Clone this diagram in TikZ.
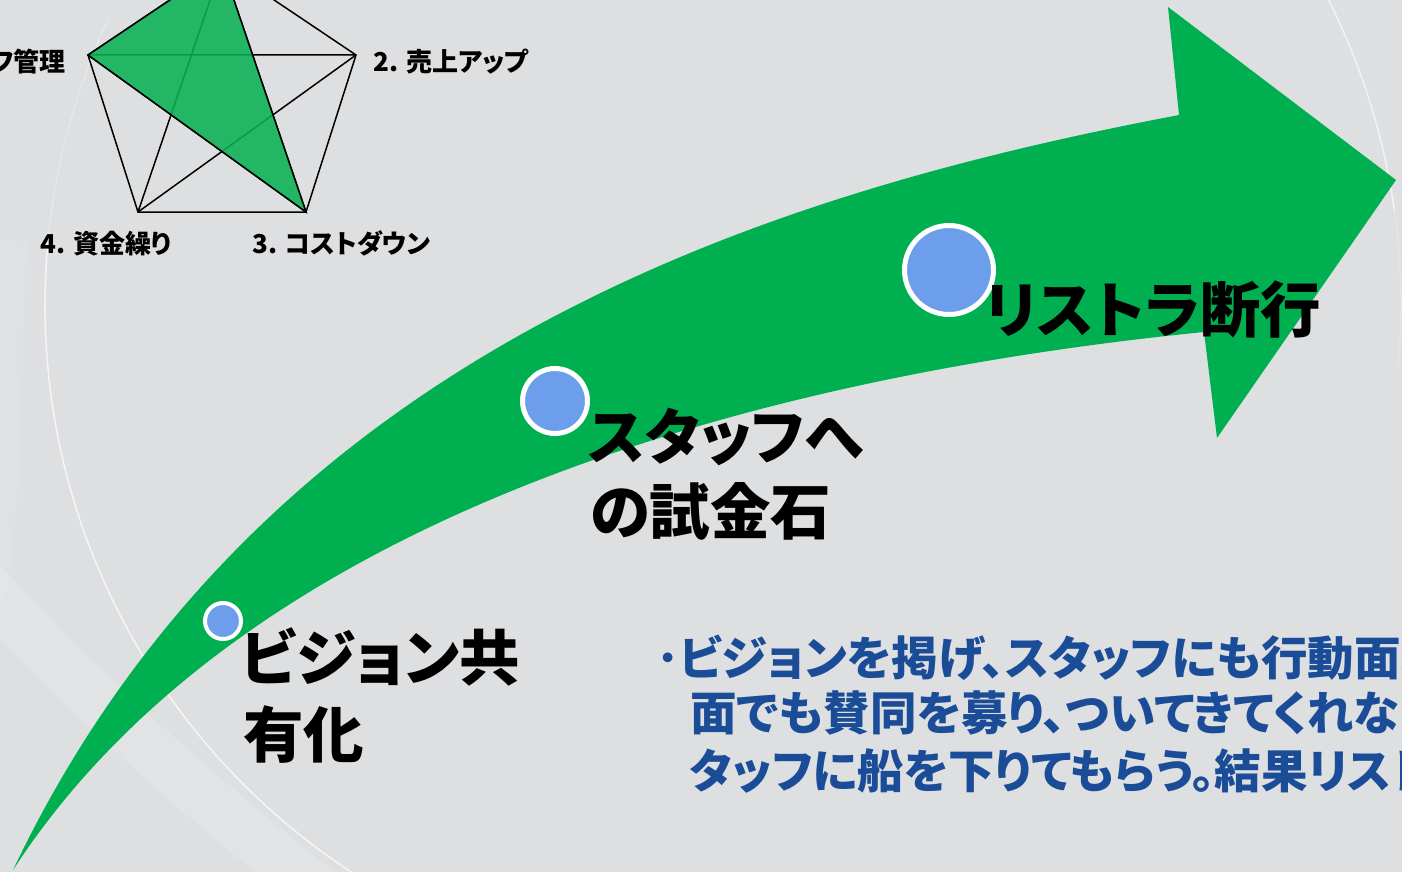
\documentclass[tikz,border=0pt]{standalone}
\usepackage{fontspec}
\newfontfamily\jp[RawFeature=+palt]{Noto Sans CJK JP}
\definecolor{bg}{RGB}{222,223,225}
\definecolor{arrowgreen}{RGB}{0,176,80}
\definecolor{radargreen}{RGB}{10,178,84}
\definecolor{dotblue}{RGB}{109,158,235}
\definecolor{textblue}{RGB}{26,76,152}
\tikzset{
  stepdot/.style={circle, fill=dotblue, draw=white, inner sep=0pt},
  biglabel/.style={font=\jp\bfseries\fontsize{60.5}{60.5}\selectfont, anchor=base west, inner sep=0pt, text=black},
  bluetext/.style={font=\jp\bfseries\fontsize{46.5}{46.5}\selectfont, anchor=base west, inner sep=0pt, text=textblue},
  radarlabel/.style={font=\jp\bfseries\fontsize{26}{26}\selectfont, anchor=base west, inner sep=0pt, text=black},
  radarline/.style={draw=black, line width=1.5pt},
  bgline/.style={draw=white, line width=1.5pt}
}
\begin{document}
\begin{tikzpicture}[x=1pt,y=-1pt]
\useasboundingbox (0,0) rectangle (1402,872);
\clip (0,0) rectangle (1402,872);
\fill[bg] (0,0) rectangle (1402,872);
% background decoration
\draw[white, opacity=0.14, line width=50pt] (-30,570) .. controls (90,700) and (190,790) .. (330,900);
\draw[white, opacity=0.08, line width=30pt] (12,240) .. controls (5,380) and (10,480) .. (-10,600);
\draw[bgline, opacity=0.25] (723,305) ++(205:678) arc[start angle=205, end angle=186, radius=678];
\draw[bgline, opacity=0.7] (723,305) ++(186:678) arc[start angle=186, end angle=122, radius=678];
\draw[bgline, opacity=0.6] (723,305) ++(-30:678) arc[start angle=-30, end angle=-8, radius=678];
\draw[bgline, opacity=0.2] (723,305) ++(-8:678) arc[start angle=-8, end angle=5, radius=678];
% radar chart
\coordinate (T) at (222,-35);
\coordinate (R) at (356,55);
\coordinate (BR) at (306,212);
\coordinate (BL) at (138,212);
\coordinate (L) at (88,55);
\draw[radarline] (T) -- (R) -- (BR) -- (BL) -- (L) -- cycle;
\draw[radarline] (T) -- (BL) (T) -- (BR) (L) -- (R) (L) -- (BR) (R) -- (BL);
\fill[radargreen, opacity=0.88] (L) -- (T) -- (BR) -- cycle;
\draw[radarline] (L) -- (T) -- (BR) -- cycle;
\node[radarlabel, anchor=base east] (r5) at (66,72) {5. スタッフ管理};
\node[radarlabel] (r2) at (373,72) {2. 売上アップ};
\node[radarlabel] (r4) at (40,253) {4. 資金繰り};
\node[radarlabel] (r3) at (252,253) {3. コストダウン};
% big arrow
\fill[arrowgreen]
  (13,870) .. controls (263,345) and (779,191) .. (1179,115)
  -- (1168,7) -- (1396,180) -- (1217,438) -- (1204,332)
  .. controls (754,377) and (243,516) .. (13,870)
  -- cycle;
% step dots
\node[stepdot, minimum size=36pt, line width=4pt] (d1) at (223,621) {};
\node[stepdot, minimum size=65pt, line width=5pt] (d2) at (555,401) {};
\node[stepdot, minimum size=89pt, line width=5pt] (d3) at (949,270) {};
% labels
\node[biglabel] (l1a) at (241,680) {ビジョン共};
\node[biglabel] (l1b) at (243,757) {有化};
\node[biglabel] (l2a) at (588,459) {スタッフへ};
\node[biglabel] (l2b) at (590,534) {の試金石};
\node[biglabel] (l3) at (985,332) {リストラ断行};
% description
\node[bluetext] (t1) at (656,675) {･ビジョンを掲げ、スタッフにも行動面、};
\node[bluetext] (t2) at (690,730) {面でも賛同を募り、ついてきてくれな};
\node[bluetext] (t3) at (690,788) {タッフに船を下りてもらう。結果リスト};
\end{tikzpicture}
\end{document}
